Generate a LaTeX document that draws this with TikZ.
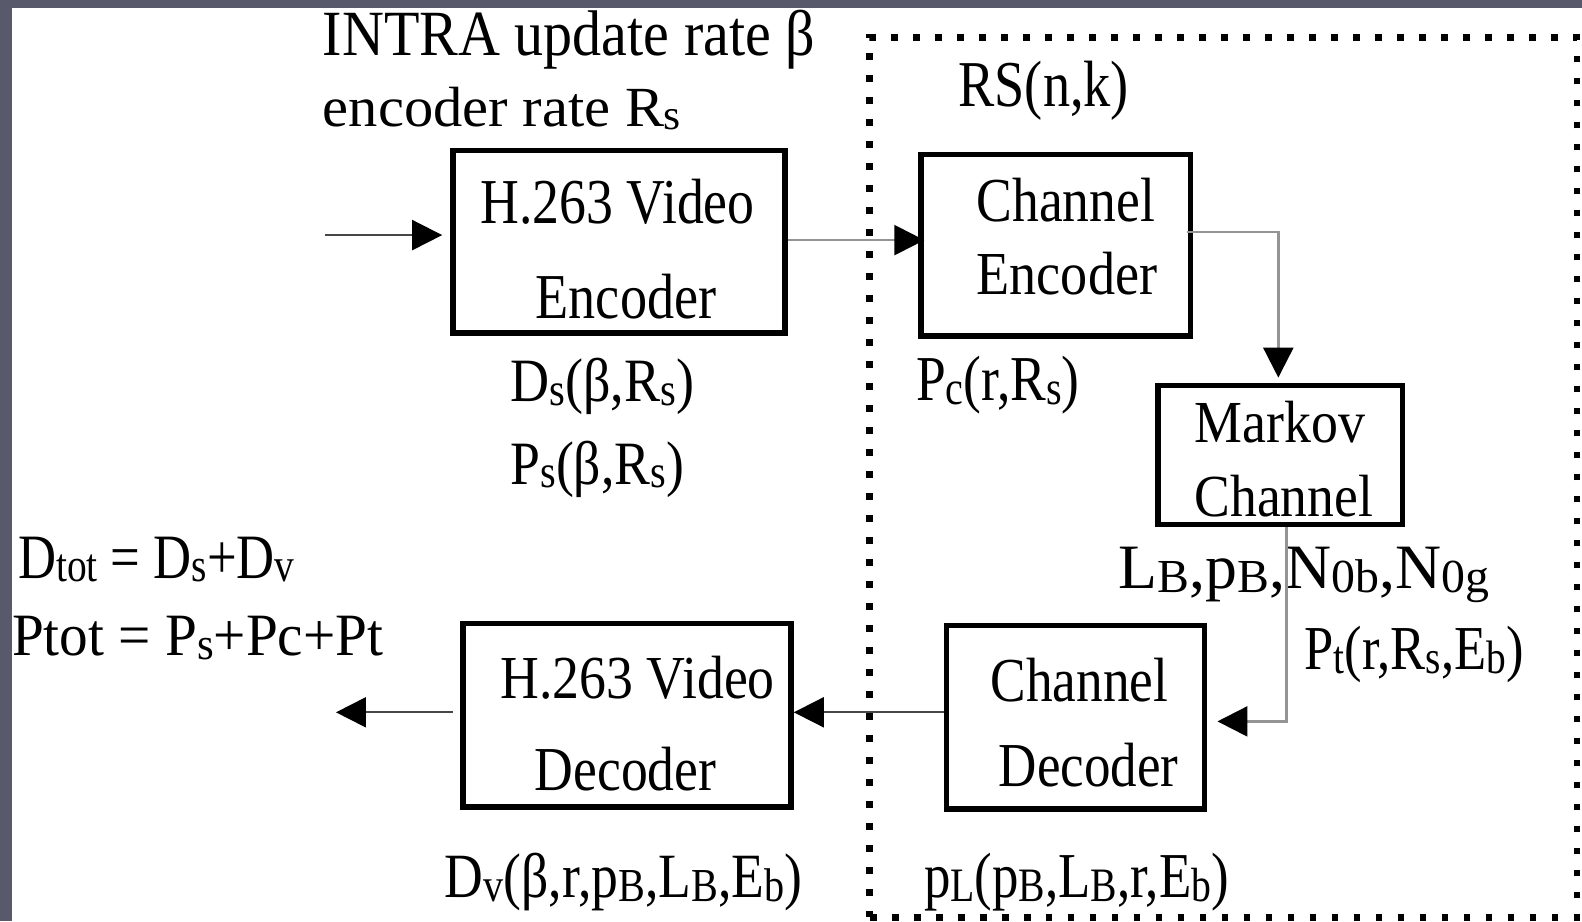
\documentclass[tikz,border=0pt]{standalone}
\usepackage{fontspec}
\setmainfont{Liberation Serif}
\usepackage{graphicx}
\usetikzlibrary{arrows.meta,calc}
\newlength\U \setlength\U{0.5045pt}
\newcommand\R[3]{\resizebox{#1\U}{#2\U}{#3}}
\newcommand\lo[1]{\raisebox{-0.06em}{\scalebox{0.75}{#1}}}
\definecolor{framegray}{RGB}{88,90,107}
\tikzset{
  bx/.style 2 args={draw, line width=2.8pt, minimum width=#1*0.5045pt, minimum height=#2*0.5045pt, inner sep=0pt},
  txt/.style={inner sep=0pt, outer sep=0pt, anchor=base west, font=\fontsize{27}{30}\selectfont},
  dk/.style={draw=black!72, line width=1pt},
  lt/.style={draw=black!42, line width=1.2pt},
  arr/.style={-{Triangle[length=15pt,width=15pt,color=black]}},
}
\begin{document}
\begin{tikzpicture}[x=0.5045pt, y=-0.5045pt]
\fill[white] (0,0) rectangle (1568,913);
\useasboundingbox (0,0) rectangle (1568,913);
\fill[framegray] (0,0) rectangle (1568,8);
\fill[framegray] (0,0) rectangle (12,913);

% dotted group
\node[draw, line width=3.4pt, dash pattern=on 3.4pt off 7.6pt, minimum width=701*0.5045pt, minimum height=872*0.5045pt, inner sep=0pt] (grp) at (1212.5,473) {};

% boxes
\node[bx={329}{181}] (e1) at (613.5,239.5) {};
\node[bx={267}{180}] (ce) at (1046.5,243) {};
\node[bx={242}{138}] (mk) at (1269,451) {};
\node[bx={256}{182}] (cd) at (1066,711) {};
\node[bx={325}{182}] (vd) at (621.5,709) {};

% texts
\node[txt] (tintra) at (320,55) {\R{488}{45}{INTRA update rate β}};
\node[txt] (tenc) at (320,125) {\R{355}{39}{encoder rate R\lo{s}}};
\node[txt] (trs) at (950,106) {\R{169}{45}{RS(n,k)}};
\node[txt] (e1a) at (476,222) {\R{272}{44}{H.263 Video}};
\node[txt] (e1b) at (531,316) {\R{179}{44}{Encoder}};
\node[txt] (cea) at (968,220) {\R{177}{43}{Channel}};
\node[txt] (ceb) at (968,292) {\R{179}{42}{Encoder}};
\node[txt] (tds) at (506,398) {\R{182}{43}{D\lo{s}(β,R\lo{s})}};
\node[txt] (tps) at (506,480) {\R{172}{43}{P\lo{s}(β,R\lo{s})}};
\node[txt] (tpc) at (908,397) {\R{162}{44}{P\lo{c}(r,R\lo{s})}};
\node[txt] (mka) at (1184,439) {\R{169}{41}{Markov}};
\node[txt] (mkb) at (1184,512) {\R{177}{41}{Channel}};
\node[txt] (tlb) at (1109,583) {\R{367}{41}{L\lo{B},p\lo{B},N\lo{0b},N\lo{0g}}};
\node[txt] (tpt) at (1293,664) {\R{217}{43}{P\lo{t}(r,R\lo{s},E\lo{b})}};
\node[txt] (cda) at (982,695) {\R{176}{43}{Channel}};
\node[txt] (cdb) at (990,780) {\R{178}{43}{Decoder}};
\node[txt] (vda) at (496,692) {\R{272}{42}{H.263 Video}};
\node[txt] (vdb) at (530,783) {\R{180}{43}{Decoder}};
\node[txt] (tdtot) at (18,573) {\R{274}{41}{D\lo{tot} = D\lo{s}+D\lo{v}}};
\node[txt] (tptot) at (12,650) {\R{368}{39}{Ptot = P\lo{s}+Pc+Pt}};
\node[txt] (tdv) at (441,890) {\R{354}{44}{D\lo{v}(β,r,p\lo{B},L\lo{B},E\lo{b})}};
\node[txt] (tpl) at (916,890) {\R{302}{44}{p\lo{L}(p\lo{B},L\lo{B},r,E\lo{b})}};

% connectors
\coordinate (inS) at (322,233);
\coordinate (y238) at (0,238);
\coordinate (b1) at (1267,230);
\coordinate (b2) at (1275,715);
\coordinate (y706) at (0,706);
\coordinate (out) at (333,706);

\draw[dk,arr,shorten >=4pt] (inS) -- (inS -| e1.west);
\draw[lt,arr,shorten >=-3pt] (e1.east |- y238) -- (ce.west |- y238);
\draw[lt,arr,shorten >=2.5pt] ($(ce.east |- b1)+(-6,0)$) -- (b1) -- (b1 |- mk.north);
\draw[lt,arr,shorten >=5pt] (b2 |- mk.south) -- (b2) -- (b2 -| cd.east);
\draw[dk,arr] (cd.west |- y706) -- (vd.east |- y706);
\draw[dk,arr] ($(vd.west |- out)+(-7,0)$) -- (out);
\end{tikzpicture}
\end{document}
